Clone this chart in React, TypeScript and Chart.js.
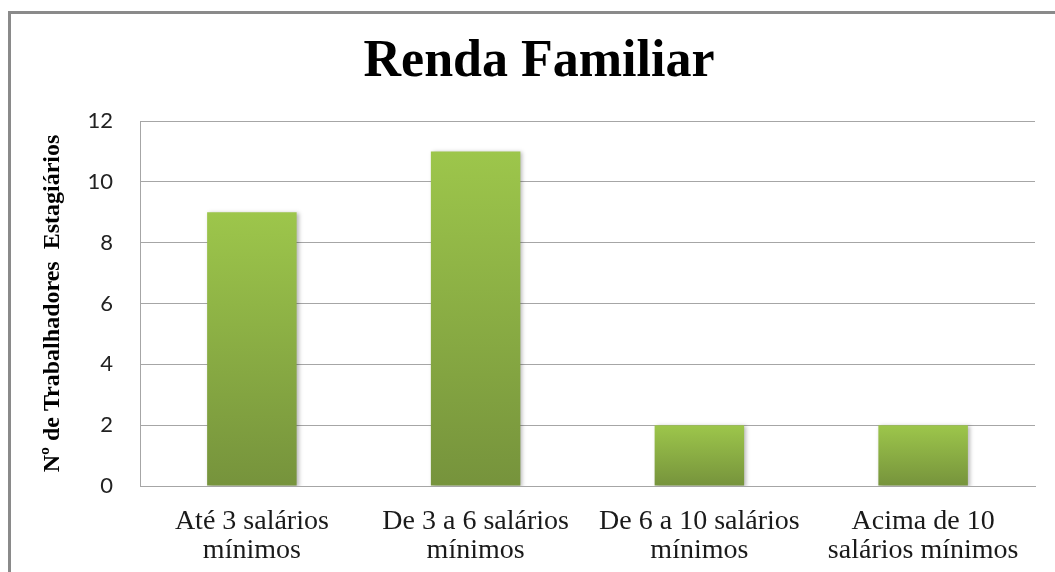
import React, { useEffect, useRef } from "react";
import { Chart, registerables } from "chart.js";

Chart.register(...registerables);

const categories: string[][] = [
  ["Até 3 salários", "mínimos"],
  ["De 3 a 6 salários", "mínimos"],
  ["De 6 a 10 salários", "mínimos"],
  ["Acima de 10", "salários mínimos"],
];
const values: number[] = [9, 11, 2, 2];
const chartTitle = "Renda Familiar";
const yAxisTitle = "Nº de Trabalhadores  Estagiários";
const yMin = 0;
const yMax = 12;
const yStep = 2;

const SERIF = "'Liberation Serif', 'Times New Roman', serif";
const SANS = "Lato, 'Open Sans', sans-serif";

const shadowPlugin = {
  id: "barShadow",
  beforeDatasetsDraw(chart: any) {
    const ctx = chart.ctx;
    ctx.save();
    ctx.shadowColor = "rgba(0,0,0,0.28)";
    ctx.shadowBlur = 4;
    ctx.shadowOffsetX = 2;
    ctx.shadowOffsetY = 1;
  },
  afterDatasetsDraw(chart: any) {
    chart.ctx.restore();
  },
};

export default function App() {
  const canvasRef = useRef<HTMLCanvasElement | null>(null);

  useEffect(() => {
    if (!canvasRef.current) return;
    const chart = new Chart(canvasRef.current, {
      type: "bar",
      data: {
        labels: categories,
        datasets: [
          {
            data: values,
            borderWidth: 0,
            categoryPercentage: 1,
            barPercentage: 0.4,
            backgroundColor: (context: any) => {
              const c = context.chart;
              const ys = c.scales && c.scales.y;
              if (!ys || context.raw === undefined) return "#8DB043";
              const top = ys.getPixelForValue(context.raw);
              const bottom = ys.getPixelForValue(0);
              if (!isFinite(top) || !isFinite(bottom) || top === bottom) return "#8DB043";
              const g = c.ctx.createLinearGradient(0, top, 0, bottom);
              g.addColorStop(0, "#9DC64B");
              g.addColorStop(1, "#76933C");
              return g;
            },
          },
        ],
      },
      options: {
        animation: false,
        responsive: false,
        maintainAspectRatio: false,
        layout: { padding: { left: 43, right: 20, top: 0, bottom: 0 } },
        plugins: {
          legend: { display: false },
          tooltip: { enabled: false },
          title: {
            display: true,
            text: chartTitle,
            color: "#000000",
            font: { family: SERIF, size: 52, weight: "bold", lineHeight: 1.2 },
            padding: { top: 31, bottom: 27.6 },
          },
        },
        scales: {
          x: {
            grid: { display: false, drawTicks: false },
            border: { display: true, color: "#A6A6A6", width: 1 },
            ticks: {
              color: "#1a1a1a",
              font: { family: SERIF, size: 28, lineHeight: 1.04 },
              padding: 21,
              maxRotation: 0,
              autoSkip: false,
            },
            afterFit: (s: any) => {
              s.height = 86;
            },
          },
          y: {
            min: yMin,
            max: yMax,
            grid: { color: "#A6A6A6", lineWidth: 1, drawTicks: false },
            border: { display: true, color: "#A6A6A6", width: 1 },
            ticks: {
              stepSize: yStep,
              color: "#222222",
              font: { family: SANS, size: 22 },
              padding: 27,
            },
            title: {
              display: true,
              text: yAxisTitle,
              color: "#000000",
              font: { family: SERIF, size: 24, weight: "bold", lineHeight: 1.2 },
              padding: { top: -5, bottom: 0 },
            },
            afterFit: (s: any) => {
              s.width = 97;
            },
          },
        },
      },
      plugins: [shadowPlugin],
    } as any);
    return () => chart.destroy();
  }, []);

  return (
    <div
      style={{
        position: "fixed",
        left: 0,
        top: 0,
        width: 1055,
        height: 572,
        overflow: "hidden",
        background: "#ffffff",
      }}
    >
      <div
        style={{
          position: "absolute",
          left: 8,
          top: 11,
          width: 1200,
          height: 700,
          border: "3px solid #8A8A8A",
          boxSizing: "border-box",
        }}
      />
      <canvas
        ref={canvasRef}
        width={1055}
        height={572}
        style={{ position: "absolute", left: 0, top: 0, width: 1055, height: 572 }}
      />
    </div>
  );
}
